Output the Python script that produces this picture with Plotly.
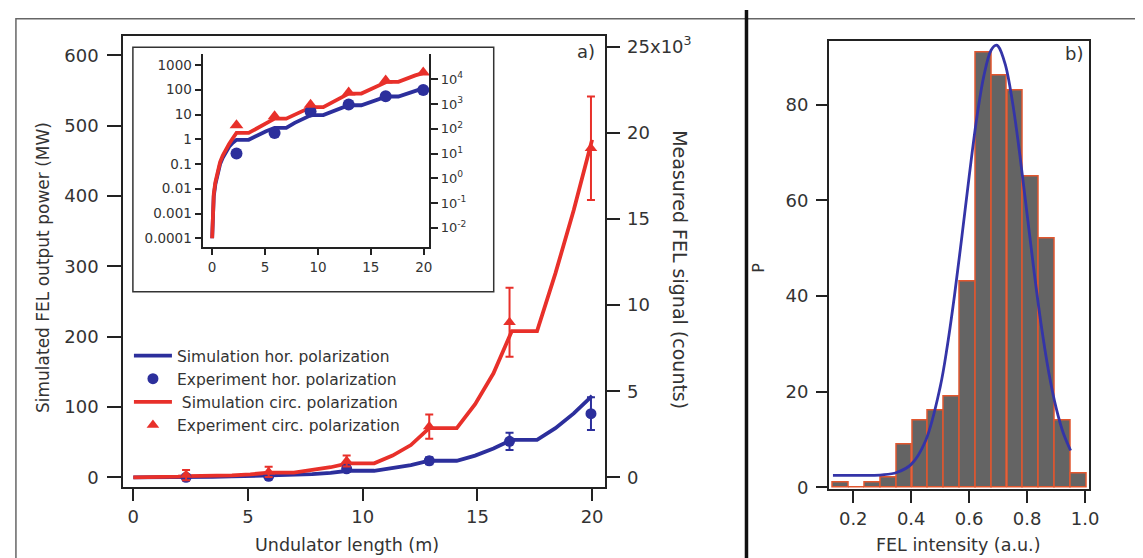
import plotly.graph_objects as go

W, H = 1143, 558

# ---------------- data ----------------
# simulation (MW) vs undulator length (m)
sim_x = [0, 0.05, 0.15, 0.3, 0.5, 0.75, 1.0, 1.3, 1.6, 1.95, 2.3, 3.45, 4.3, 5.1, 5.9,
         7.0, 7.8, 8.6, 9.35, 10.5, 11.3, 12.1, 12.9, 14.1, 14.9, 15.7, 16.5, 17.6,
         18.4, 19.2, 20.0]
sim_hor = [0.0001, 0.0012, 0.005, 0.015, 0.04, 0.1, 0.18, 0.32, 0.5, 0.72, 0.95, 0.95,
           1.5, 2.1, 2.9, 2.9, 4.6, 6.6, 9.5, 9.5, 13, 17.5, 23.7, 23.7, 31, 41, 53.5,
           53.5, 70, 91, 116]
sim_circ = [0.0001, 0.0015, 0.006, 0.018, 0.05, 0.12, 0.22, 0.4, 0.65, 1.1, 1.8, 1.8,
            2.9, 4.4, 6.8, 6.8, 10, 14.5, 20, 20, 31, 46, 70, 70, 104, 148, 208, 208,
            290, 380, 480]

# experiment (counts)
exp_x = [2.3, 5.9, 9.3, 12.9, 16.4, 19.95]
exp_hor = [10, 68, 500, 970, 2100, 3700]
exp_hor_err = [120, 120, 150, 200, 500, 950]
exp_circ = [140, 320, 950, 2950, 9000, 19100]
exp_circ_err = [300, 300, 320, 700, 2000, 3000]

# histogram b)
bin_centers = [0.158, 0.213, 0.267, 0.322, 0.376, 0.431, 0.486, 0.540, 0.595, 0.649,
               0.704, 0.759, 0.813, 0.868, 0.922, 0.977]
bin_counts = [1, 0, 1, 2, 9, 14, 16, 19, 43, 91, 86, 83, 65, 52, 14, 3]
bin_width = 0.0546
fit_x = [0.13, 0.20, 0.25, 0.30, 0.35, 0.40, 0.45, 0.50, 0.525, 0.55, 0.575, 0.60, 0.625,
         0.65, 0.675, 0.692, 0.70, 0.725, 0.75, 0.775, 0.80, 0.825, 0.85, 0.875, 0.90,
         0.925, 0.95]
fit_y = [2.5, 2.5, 2.5, 2.6, 3.1, 4.8, 9.8, 21.0, 29.7, 40.4, 52.5, 65.0, 76.7, 85.8,
         91.3, 92.4, 92.2, 88.3, 80.3, 69.4, 57.0, 44.6, 33.3, 23.9, 16.6, 11.3, 7.7]

main_ticks = [0, 5, 10, 15, 20]
left_ticks = [0, 100, 200, 300, 400, 500, 600]
right_ticks = [0, 5000, 10000, 15000, 20000, 25000]
right_ticktext = ["0", "5", "10", "15", "20", "25x10<sup>3</sup>"]
inset_left_ticks = [0.0001, 0.001, 0.01, 0.1, 1, 10, 100, 1000]
inset_left_text = ["0.0001", "0.001", "0.01", "0.1", "1", "10", "100", "1000"]
inset_right_ticks = [0.01, 0.1, 1, 10, 100, 1000, 10000]
inset_right_text = ["10<sup>-2</sup>", "10<sup>-1</sup>", "10<sup>0</sup>", "10<sup>1</sup>",
                    "10<sup>2</sup>", "10<sup>3</sup>", "10<sup>4</sup>"]
hist_xticks = [0.2, 0.4, 0.6, 0.8, 1.0]
hist_yticks = [0, 20, 40, 60, 80]

# ---------------- styles ----------------
RED = "#e8302a"
BLUE = "#2c2f9c"
FONT = "DejaVu Sans"
TXT = "#333333"


def px(x):
    return x / W


def py(y):
    return 1 - y / H


fig = go.Figure()

# main panel
fig.add_trace(go.Scatter(x=sim_x, y=sim_hor, mode="lines", line=dict(color=BLUE, width=3.8),
                         name="Simulation hor. polarization", xaxis="x", yaxis="y"))
fig.add_trace(go.Scatter(x=exp_x, y=exp_hor, mode="markers",
                         marker=dict(color=BLUE, size=11, symbol="circle"),
                         error_y=dict(type="data", array=exp_hor_err, color=BLUE, thickness=2, width=4),
                         name="Experiment hor. polarization", xaxis="x", yaxis="y2"))
fig.add_trace(go.Scatter(x=sim_x, y=sim_circ, mode="lines", line=dict(color=RED, width=3.8),
                         name=" Simulation circ. polarization", xaxis="x", yaxis="y"))
fig.add_trace(go.Scatter(x=exp_x, y=exp_circ, mode="markers",
                         marker=dict(color=RED, size=11, symbol="triangle-up"),
                         error_y=dict(type="data", array=exp_circ_err, color=RED, thickness=2, width=4),
                         name="Experiment circ. polarization", xaxis="x", yaxis="y2"))

# inset
fig.add_trace(go.Scatter(x=sim_x, y=sim_hor, mode="lines", line=dict(color=BLUE, width=3.8),
                         showlegend=False, xaxis="x2", yaxis="y3"))
fig.add_trace(go.Scatter(x=sim_x, y=sim_circ, mode="lines", line=dict(color=RED, width=3.8),
                         showlegend=False, xaxis="x2", yaxis="y3"))
fig.add_trace(go.Scatter(x=exp_x, y=exp_hor, mode="markers",
                         marker=dict(color=BLUE, size=12, symbol="circle"),
                         showlegend=False, xaxis="x2", yaxis="y4"))
fig.add_trace(go.Scatter(x=exp_x, y=exp_circ, mode="markers",
                         marker=dict(color=RED, size=12, symbol="triangle-up"),
                         showlegend=False, xaxis="x2", yaxis="y4"))

# histogram panel
fig.add_trace(go.Bar(x=bin_centers, y=bin_counts, width=bin_width,
                     marker=dict(color="#646464", line=dict(color="#e2572f", width=1.5)),
                     showlegend=False, xaxis="x3", yaxis="y5"))
fig.add_trace(go.Scatter(x=fit_x, y=fit_y, mode="lines", line=dict(color="#3434a8", width=2.8),
                         line_shape="spline", showlegend=False, xaxis="x3", yaxis="y5"))

tickfont = dict(family=FONT, size=18, color=TXT)
inset_font = dict(family=FONT, size=13.5, color=TXT)
axis_common = dict(showline=True, linecolor="#222222", linewidth=1.5, ticks="outside",
                   tickcolor="#222222", tickwidth=1.5, showgrid=False, zeroline=False,
                   tickfont=tickfont)
inset_common = dict(axis_common, tickfont=inset_font)

fig.update_layout(
    width=W, height=H, autosize=False,
    margin=dict(l=0, r=0, t=0, b=0),
    paper_bgcolor="white", plot_bgcolor="white",
    font=dict(family=FONT, color=TXT),
    xaxis=dict(domain=[px(116), px(602)], range=[-0.45, 20.55], tickvals=main_ticks,
               ticklen=12, mirror=True, anchor="y", **axis_common),
    yaxis=dict(domain=[py(486), py(26)], range=[-14, 628], tickvals=left_ticks,
               ticklen=14, anchor="x", ticklabelstandoff=5, **axis_common),
    yaxis2=dict(overlaying="y", side="right", anchor="x", range=[-570, 25640],
                tickvals=right_ticks, ticktext=right_ticktext, ticklen=14,
                ticklabelstandoff=3, **axis_common),
    xaxis2=dict(domain=[px(197), px(425)], range=[-0.84, 20.52], tickvals=main_ticks,
                ticklen=7, anchor="y3", **inset_common),
    yaxis3=dict(domain=[py(241), py(45)], type="log", range=[-4.34, 3.437], anchor="x2",
                tickvals=inset_left_ticks, ticktext=inset_left_text, ticklen=7,
                **inset_common),
    yaxis4=dict(overlaying="y3", side="right", type="log", anchor="x2",
                range=[-4.34 + 1.58, 3.437 + 1.58], tickvals=inset_right_ticks,
                ticktext=inset_right_text, ticklen=7,
                **dict(axis_common, tickfont=dict(family=FONT, size=13, color=TXT))),
    xaxis3=dict(domain=[px(828), px(1091)], range=[0.1155, 1.015], tickvals=hist_xticks,
                tickformat=".1f", ticklen=12, mirror=True, anchor="y5", **axis_common),
    yaxis5=dict(domain=[py(488), py(32)], range=[-0.4, 93.2], tickvals=hist_yticks,
                ticklen=11, mirror=True, anchor="x3", ticklabelstandoff=4, **axis_common),
    bargap=0,
    legend=dict(x=px(122), y=py(335), xanchor="left", yanchor="top",
                bgcolor="rgba(0,0,0,0)", itemwidth=38,
                font=dict(family=FONT, size=15.5, color=TXT), tracegroupgap=0),
)

shapes = [
    # outer frame
    dict(type="rect", xref="paper", yref="paper", x0=px(8), x1=px(1141), y0=py(560), y1=py(9),
         line=dict(color="#666666", width=1.5), fillcolor="rgba(0,0,0,0)", layer="below"),
    # panel divider
    dict(type="line", xref="paper", yref="paper", x0=px(745), x1=px(745), y0=0, y1=1,
         line=dict(color="#111111", width=3.5)),
    # inset frame
    dict(type="rect", xref="paper", yref="paper", x0=px(126), x1=px(490), y0=py(287), y1=py(38),
         line=dict(color="#333333", width=1.5), fillcolor="white", layer="below"),
]
fig.update_layout(shapes=shapes)

ann = [
    dict(text="Simulated FEL output power (MW)", x=px(36), y=py(262), textangle=-90,
         font=dict(size=17)),
    dict(text="Undulator length (m)", x=px(342), y=py(545), font=dict(size=17.5)),
    dict(text="Measured FEL signal (counts)", x=px(678), y=py(264), textangle=90,
         font=dict(size=19)),
    dict(text="P", x=px(757), y=py(262), textangle=-90, font=dict(size=16)),
    dict(text="FEL intensity (a.u.)", x=px(958), y=py(545), font=dict(size=17.5)),
    dict(text="a)", x=px(583), y=py(42), font=dict(size=18)),
    dict(text="b)", x=px(1075), y=py(44), font=dict(size=18)),
]
for a in ann:
    a.update(xref="paper", yref="paper", showarrow=False, xanchor="center", yanchor="middle")
    a["font"] = dict(family=FONT, color=TXT, **a["font"])
fig.update_layout(annotations=ann)

fig.write_html("out.html")
